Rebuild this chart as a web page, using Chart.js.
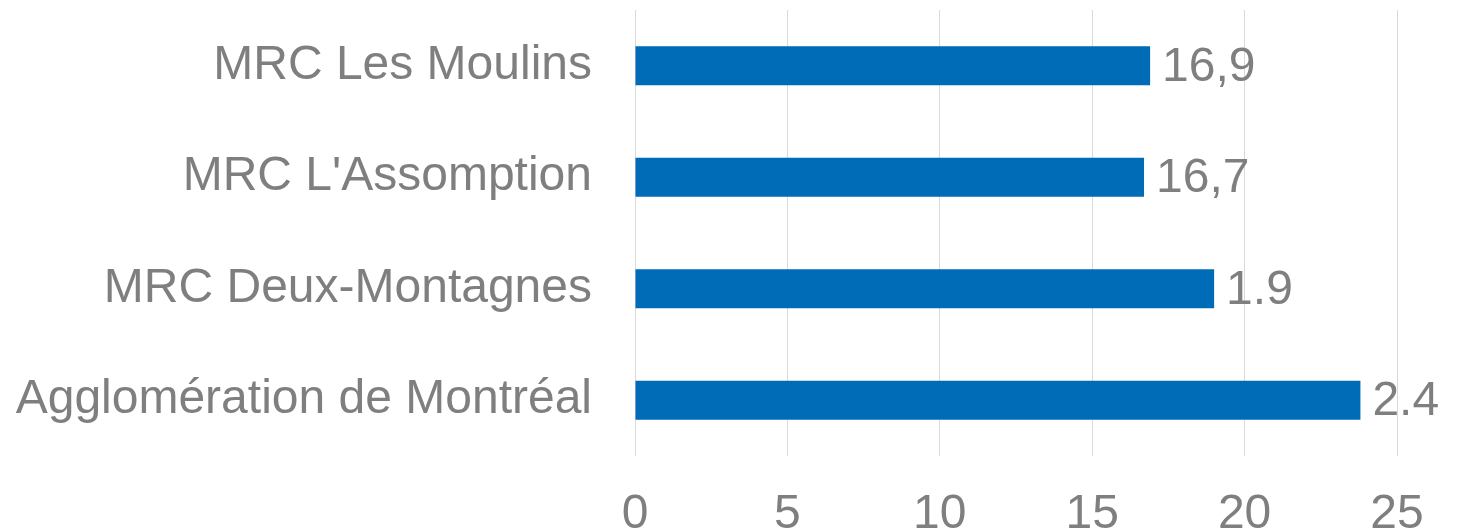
<!DOCTYPE html>
<html>
<head>
<meta charset="utf-8">
<script src="https://cdn.jsdelivr.net/npm/chart.js@4.4.1/dist/chart.umd.min.js"></script>
<style>
  html, body { margin: 0; padding: 0; background: #fff; overflow: hidden; }
  #wrap { position: relative; width: 1473px; height: 540px; }
</style>
</head>
<body>
<div id="wrap"><canvas id="chart"></canvas></div>
<script>
// data
const categories = ['MRC Les Moulins', "MRC L'Assomption", 'MRC Deux-Montagnes', 'Agglomération de Montréal'];
const values = [16.9, 16.7, 19.0, 23.8];
const valueLabels = ['16,9', '16,7', '1.9', '2.4'];
const xTicks = [0, 5, 10, 15, 20, 25];

const textGray = '#7f7f7f';
const fontFamily = '"Liberation Sans", Arial, sans-serif';

// draws the text at the end of each bar
const barLabels = {
  id: 'barLabels',
  afterDatasetsDraw(chart) {
    const ctx = chart.ctx;
    const meta = chart.getDatasetMeta(0);
    ctx.save();
    ctx.font = '48px ' + fontFamily;
    ctx.fillStyle = textGray;
    ctx.textAlign = 'left';
    ctx.textBaseline = 'middle';
    meta.data.forEach(function(bar, i) {
      ctx.fillText(valueLabels[i], bar.x + 12, bar.y + 2);
    });
    ctx.restore();
  }
};

new Chart(document.getElementById('chart'), {
  type: 'bar',
  data: {
    labels: categories,
    datasets: [{
      data: values,
      backgroundColor: '#006bb6',
      borderWidth: 0,
      barPercentage: 0.7,
      categoryPercentage: 0.5
    }]
  },
  options: {
    indexAxis: 'y',
    responsive: true,
    maintainAspectRatio: false,
    animation: false,
    layout: { padding: { top: 10, right: 76, left: 0, bottom: 0 } },
    plugins: {
      legend: { display: false },
      tooltip: { enabled: false }
    },
    scales: {
      x: {
        min: 0,
        max: 25,
        afterBuildTicks: function(scale) {
          scale.ticks = xTicks.map(v => ({ value: v }));
        },
        afterFit: function(scale) { scale.height = 84; },
        border: { display: false },
        grid: { color: '#d9d9d9', lineWidth: 1, drawTicks: false },
        ticks: {
          padding: 30,
          color: textGray,
          font: { family: fontFamily, size: 48 }
        }
      },
      y: {
        afterFit: function(scale) {
          scale.width = 635;
          scale.paddingTop = 0;
          scale.paddingBottom = 0;
        },
        border: { display: false },
        grid: { display: false, drawTicks: false },
        ticks: {
          padding: 43,
          color: textGray,
          font: { family: fontFamily, size: 48, lineHeight: 0.2 }
        }
      }
    }
  },
  plugins: [barLabels]
});
</script>
</body>
</html>
